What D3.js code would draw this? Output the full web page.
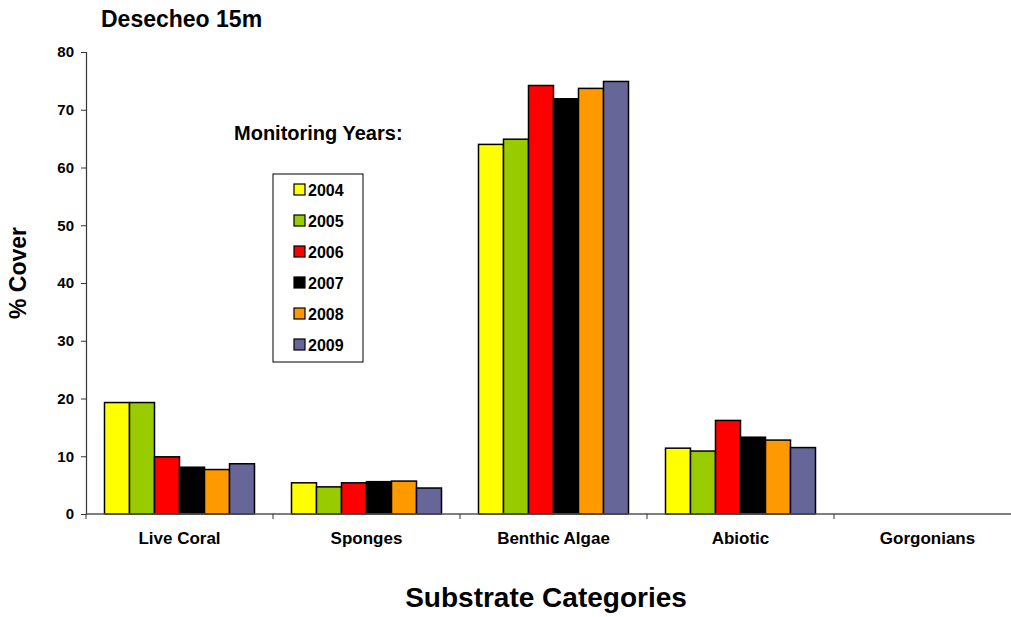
<!DOCTYPE html>
<html>
<head>
<meta charset="utf-8">
<script src="https://cdn.jsdelivr.net/npm/d3@7"></script>
<style>
  body { margin: 0; background: #fff; }
  text { font-family: "Liberation Sans", Arial, sans-serif; font-weight: bold; fill: #000; }
</style>
</head>
<body>
<div id="chart"></div>
<script>
const categories = ['Live Coral', 'Sponges', 'Benthic Algae', 'Abiotic', 'Gorgonians']
const years = ['2004', '2005', '2006', '2007', '2008', '2009']
const colors = ['#ffff00', '#99cc00', '#ff0000', '#000000', '#ff9900', '#666699']
// % cover per year, one array per category
const liveCoral = [19.3, 19.3, 9.9, 8.1, 7.7, 8.7]
const sponges = [5.4, 4.7, 5.4, 5.6, 5.7, 4.5]
const benthicAlgae = [64.0, 64.9, 74.2, 71.9, 73.7, 74.9]
const abiotic = [11.4, 10.9, 16.2, 13.3, 12.8, 11.5]
const gorgonians = [0, 0, 0, 0, 0, 0]
const yTicks = [0, 10, 20, 30, 40, 50, 60, 70, 80]

const width = 1011, height = 617
const margins = {top: 52, right: -10, bottom: 103, left: 86}

const table = [liveCoral, sponges, benthicAlgae, abiotic, gorgonians]

const svg = d3.select('#chart').append('svg')
    .attr('width', width)
    .attr('height', height)

const x = d3.scaleBand()
    .domain(categories)
    .range([margins.left, width - margins.right])

const y = d3.scaleLinear()
    .domain([0, 80])
    .range([height - margins.bottom, margins.top])

const inner = d3.scaleBand()
    .domain(years)
    .range([0, x.bandwidth()])
    .paddingOuter(0.74)

// bars
const groups = svg.append('g').selectAll('g')
    .data(table)
    .join('g')
    .attr('transform', (d, i) => 'translate(' + x(categories[i]) + ',0)')

groups.selectAll('rect')
    .data(d => d.map((v, j) => ({year: years[j], value: v, color: colors[j]})).filter(d => d.value > 0))
    .join('rect')
    .attr('x', d => inner(d.year))
    .attr('y', d => y(d.value))
    .attr('width', inner.bandwidth())
    .attr('height', d => y(0) - y(d.value))
    .attr('fill', d => d.color)
    .attr('stroke', '#000')
    .attr('stroke-width', 1.5)

// y axis
const yAxis = svg.append('g')
    .attr('transform', 'translate(' + margins.left + ',0)')
    .call(d3.axisLeft(y).tickValues(yTicks).tickSize(5).tickPadding(7))
yAxis.select('.domain').attr('stroke', '#333').attr('stroke-width', 1.2)
yAxis.selectAll('.tick line').attr('stroke', '#333')
yAxis.selectAll('text').style('font-size', '15px').style('font-family', '"Liberation Sans", Arial, sans-serif').style('font-weight', 'bold')

// x axis: ticks between categories
const xAxisG = svg.append('g')
    .attr('transform', 'translate(0,' + y(0) + ')')
xAxisG.append('line')
    .attr('x1', margins.left).attr('x2', width - margins.right)
    .attr('stroke', '#555').attr('stroke-width', 1.5)
xAxisG.selectAll('.sep')
    .data(categories)
    .join('line')
    .attr('class', 'sep')
    .attr('x1', d => x(d)).attr('x2', d => x(d))
    .attr('y1', 0).attr('y2', 5)
    .attr('stroke', '#333')
xAxisG.selectAll('.cat')
    .data(categories)
    .join('text')
    .attr('class', 'cat')
    .attr('x', d => x(d) + x.bandwidth() / 2)
    .attr('y', 30)
    .attr('text-anchor', 'middle')
    .style('font-size', '17px')
    .text(d => d)

// titles
svg.append('text')
    .attr('x', 101).attr('y', 27)
    .style('font-size', '23px')
    .text('Desecheo 15m')

svg.append('text')
    .attr('transform', 'translate(26,' + ((y(0) + y(80)) / 2 - 10) + ') rotate(-90)')
    .attr('text-anchor', 'middle')
    .style('font-size', '23px')
    .text('% Cover')

svg.append('text')
    .attr('x', 546).attr('y', 607)
    .attr('text-anchor', 'middle')
    .style('font-size', '28px')
    .text('Substrate Categories')

// legend
svg.append('text')
    .attr('x', 234).attr('y', 140)
    .style('font-size', '20px')
    .text('Monitoring Years:')

const legend = svg.append('g').attr('transform', 'translate(273,174)')
legend.append('rect')
    .attr('width', 90).attr('height', 188)
    .attr('fill', '#fff').attr('stroke', '#000').attr('stroke-width', 1)

const items = legend.selectAll('g.item')
    .data(years)
    .join('g')
    .attr('class', 'item')
    .attr('transform', (d, i) => 'translate(0,' + (17 + i * 31) + ')')
items.append('rect')
    .attr('x', 21).attr('y', -7)
    .attr('width', 11).attr('height', 11)
    .attr('fill', (d, i) => colors[i])
    .attr('stroke', '#000').attr('stroke-width', 1.2)
items.append('text')
    .attr('x', 35).attr('y', 5)
    .style('font-size', '16px')
    .text(d => d)
</script>
</body>
</html>
